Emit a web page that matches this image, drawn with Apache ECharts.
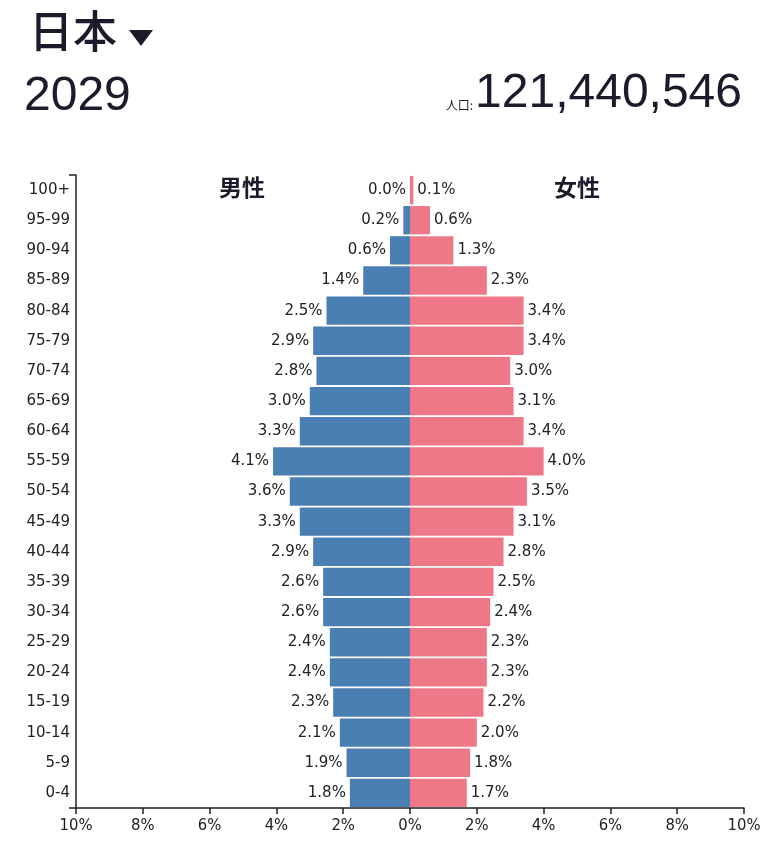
<!DOCTYPE html>
<html>
<head>
<meta charset="utf-8">
<script src="https://cdn.jsdelivr.net/npm/echarts@6/dist/echarts.min.js"></script>
<style>
html,body{margin:0;padding:0;background:#fff;}
#c{width:768px;height:858px;}
</style>
</head>
<body>
<div id="c"></div>
<script>
var ageGroups = ['0-4','5-9','10-14','15-19','20-24','25-29','30-34','35-39','40-44','45-49','50-54','55-59','60-64','65-69','70-74','75-79','80-84','85-89','90-94','95-99','100+'];
var maleValues = [1.8,1.9,2.1,2.3,2.4,2.4,2.6,2.6,2.9,3.3,3.6,4.1,3.3,3.0,2.8,2.9,2.5,1.4,0.6,0.2,0.0];
var femaleValues = [1.7,1.8,2.0,2.2,2.3,2.3,2.4,2.5,2.8,3.1,3.5,4.0,3.4,3.1,3.0,3.4,3.4,2.3,1.3,0.6,0.1];
var xTicks = [-10,-8,-6,-4,-2,0,2,4,6,8,10];
var countryName = '日本';
var yearText = '2029';
var populationText = '121,440,546';

var chart = echarts.init(document.getElementById('c'));
var dark = '#1b1b2b';
var labelFont = '"DejaVu Sans", sans-serif';
var cjk = '"Noto Sans CJK JP", sans-serif';
var latin = '"Liberation Sans", Arial, sans-serif';
var option = {
  animation: false,
  backgroundColor: '#fff',
  title: [
    { text: countryName, left: 29, top: 9, padding: 0,
      textStyle: { fontFamily: cjk, fontSize: 44, fontWeight: 500, color: dark } },
    { text: yearText, left: 24, top: 73, padding: 0,
      textStyle: { fontFamily: latin, fontSize: 48, fontWeight: 'normal', color: dark } },
    { text: '{s|人口:}{b|' + populationText + '}', right: 26, top: 70, padding: 0,
      textStyle: { rich: {
        s: { fontFamily: cjk, fontSize: 12, fontWeight: 'normal', color: dark, verticalAlign: 'bottom', padding: [0, 2, 7, 0] },
        b: { fontFamily: latin, fontSize: 48, fontWeight: 'normal', color: dark, verticalAlign: 'bottom' }
      } } }
  ],
  grid: { left: 76, right: 24, top: 175, bottom: 50, containLabel: false },
  xAxis: {
    type: 'value', min: xTicks[0], max: xTicks[xTicks.length - 1], interval: 2,
    axisLine: { show: true, lineStyle: { color: '#222', width: 1.5 } },
    axisTick: { show: true, length: 6, lineStyle: { color: '#222', width: 1.5 } },
    splitLine: { show: false },
    axisLabel: { margin: 9, fontFamily: '"DejaVu Sans Condensed", "DejaVu Sans", sans-serif', fontSize: 16.5, color: '#222',
      formatter: function (v) { return Math.abs(v) + '%'; } }
  },
  yAxis: {
    type: 'category', data: ageGroups,
    axisLine: { show: true, onZero: false, lineStyle: { color: '#222', width: 1.5 } },
    axisTick: { show: false },
    axisLabel: { margin: 6, fontFamily: labelFont, fontSize: 15, color: '#222' }
  },
  series: [
    { name: '男性', type: 'bar', barGap: '-100%', barCategoryGap: '6%',
      data: maleValues.map(function (v) { return -v; }),
      itemStyle: { color: '#4a7fb4' },
      label: { show: true, position: 'left', distance: 4, fontFamily: labelFont, fontSize: 15, color: '#222',
        formatter: function (p) { return Math.abs(p.value).toFixed(1) + '%'; } } },
    { name: '女性', type: 'bar', barGap: '-100%', barCategoryGap: '6%',
      data: femaleValues,
      itemStyle: { color: '#ee7888' },
      label: { show: true, position: 'right', distance: 4, fontFamily: labelFont, fontSize: 15, color: '#222',
        formatter: function (p) { return p.value.toFixed(1) + '%'; } } }
  ],
  graphic: [
    { type: 'polygon', shape: { points: [[129, 30], [153, 30], [141, 46]] }, style: { fill: dark } },
    { type: 'line', shape: { x1: 69, y1: 175, x2: 76, y2: 175 }, style: { stroke: '#222', lineWidth: 1.5 } },
    { type: 'line', shape: { x1: 69, y1: 808, x2: 76, y2: 808 }, style: { stroke: '#222', lineWidth: 1.5 } },
    { type: 'text', x: 242, y: 187, style: { text: '男性', font: 'bold 23px ' + cjk, fill: dark, align: 'center', verticalAlign: 'middle' } },
    { type: 'text', x: 577, y: 187, style: { text: '女性', font: 'bold 23px ' + cjk, fill: dark, align: 'center', verticalAlign: 'middle' } }
  ]
};
chart.setOption(option);
</script>
</body>
</html>
